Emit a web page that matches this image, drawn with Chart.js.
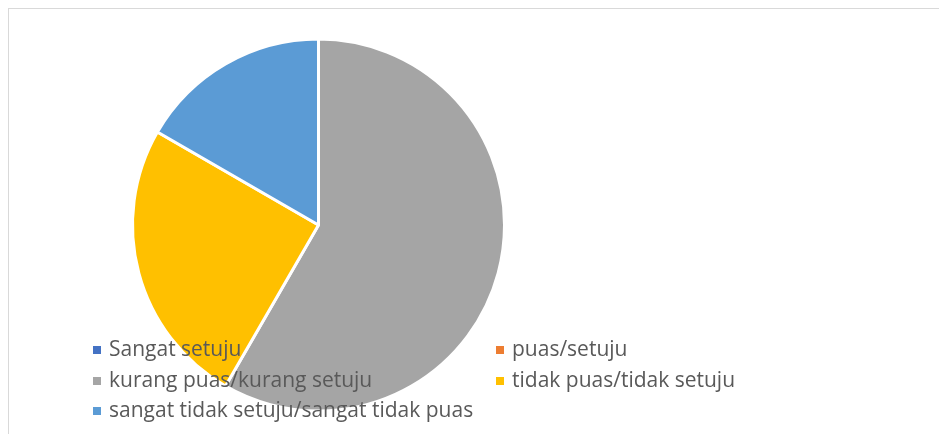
<!DOCTYPE html>
<html>
<head>
<meta charset="utf-8">
<script src="https://cdn.jsdelivr.net/npm/chart.js@4/dist/chart.umd.min.js"></script>
<style>
  html, body { margin: 0; padding: 0; background: #fff; }
  #wrap { position: relative; width: 939px; height: 434px; }
</style>
</head>
<body>
<div id="wrap"><canvas id="myChart"></canvas></div>
<script>
const labels = ['Sangat setuju', 'puas/setuju', 'kurang puas/kurang setuju', 'tidak puas/tidak setuju', 'sangat tidak setuju/sangat tidak puas'];
const values = [0, 0, 7, 3, 2];
const colors = ['#4472C4', '#ED7D31', '#A5A5A5', '#FFC000', '#5B9BD5'];

// frame around the chart (like the Excel chart area border)
const frame = {
  id: 'frame',
  beforeDraw(chart) {
    const ctx = chart.ctx;
    ctx.save();
    ctx.fillStyle = '#fff';
    ctx.fillRect(0, 0, chart.width, chart.height);
    ctx.strokeStyle = '#d9d9d9';
    ctx.lineWidth = 1;
    ctx.strokeRect(8.5, 8.5, chart.width + 20, chart.height + 20);
    ctx.restore();
  }
};

// legend drawn on top of the pie, two columns
const overLegend = {
  id: 'overLegend',
  afterDraw(chart) {
    const ctx = chart.ctx;
    const colX = [93, 496];
    const rowY = [350, 381, 411];
    ctx.save();
    ctx.font = '21px "Open Sans"';
    ctx.textBaseline = 'middle';
    chart.data.labels.forEach(function(lab, i) {
      const x = colX[i % 2];
      const y = rowY[Math.floor(i / 2)];
      ctx.fillStyle = chart.data.datasets[0].backgroundColor[i];
      ctx.fillRect(x, y - 4, 8, 8);
      ctx.fillStyle = '#595959';
      ctx.fillText(lab, x + 16, y);
    });
    ctx.restore();
  }
};

const ctx1 = document.getElementById('myChart');
new Chart(ctx1, {
  type: 'pie',
  data: {
    labels: labels,
    datasets: [{
      data: values,
      backgroundColor: colors,
      borderColor: '#ffffff',
      borderWidth: 3
    }]
  },
  options: {
    responsive: true,
    maintainAspectRatio: false,
    animation: false,
    radius: 186,
    layout: { padding: { left: 133, right: 435, top: 38, bottom: 22 } },
    plugins: {
      legend: { display: false },
      tooltip: { enabled: false }
    }
  },
  plugins: [frame, overLegend]
});
</script>
</body>
</html>
